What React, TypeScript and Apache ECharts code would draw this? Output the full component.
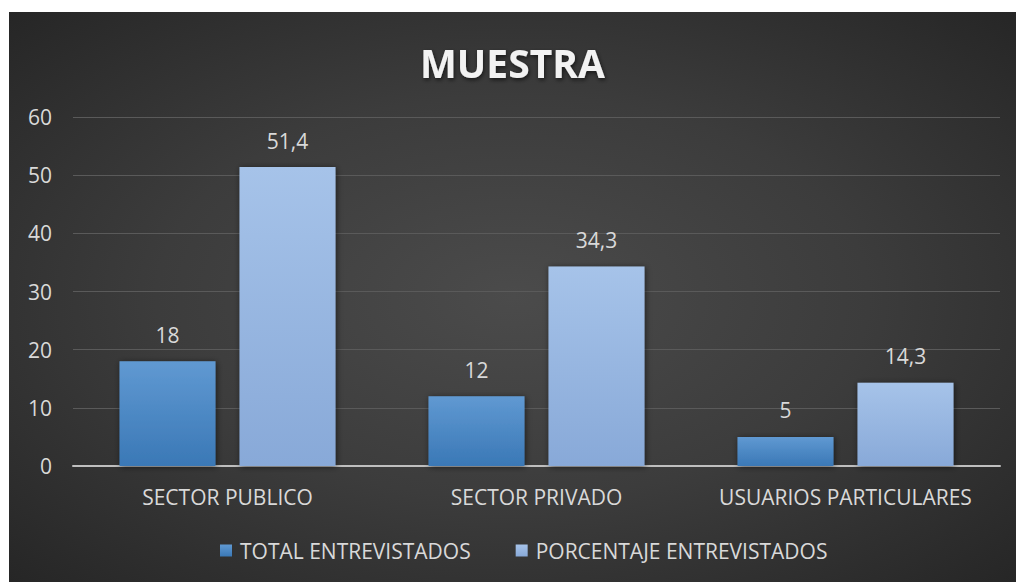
import React, { useEffect, useRef } from "react";
import * as echarts from "echarts";

const categories = ["SECTOR PUBLICO", "SECTOR PRIVADO", "USUARIOS PARTICULARES"];
const seriesNames = ["TOTAL ENTREVISTADOS", "PORCENTAJE ENTREVISTADOS"];
const totalEntrevistados = [18, 12, 5];
const porcentajeEntrevistados = [51.4, 34.3, 14.3];
const yMin = 0;
const yMax = 60;
const yInterval = 10;
const titleText = "MUESTRA";

const FONT = "'Open Sans', 'Noto Sans', sans-serif";
const TEXT = "#d9d9d9";

const fmt = (v: number) => String(v).replace(".", ",");

export default function App() {
  const ref = useRef<HTMLDivElement>(null);
  useEffect(() => {
    if (!ref.current) return;
    const chart = echarts.init(ref.current, undefined, { renderer: "svg" });
    const darkGrad = new echarts.graphic.LinearGradient(0, 0, 0, 1, [
      { offset: 0, color: "#6099d2" },
      { offset: 1, color: "#3a78b6" },
    ]);
    const lightGrad = new echarts.graphic.LinearGradient(0, 0, 0, 1, [
      { offset: 0, color: "#a6c3e9" },
      { offset: 1, color: "#88a9d8" },
    ]);
    const labelCfg = {
      show: true,
      position: "top",
      distance: 16,
      color: TEXT,
      fontFamily: FONT,
      fontSize: 21,
      formatter: (p: any) => fmt(p.value),
    };
    chart.setOption({
      animation: false,
      backgroundColor: "transparent",
      textStyle: { fontFamily: FONT },
      title: {
        text: titleText,
        left: "center",
        top: 26,
        textStyle: {
          color: "#f2f2f2",
          fontFamily: FONT,
          fontSize: 39,
          fontWeight: "bold",
          textShadowColor: "rgba(0,0,0,0.6)",
          textShadowBlur: 4,
          textShadowOffsetX: 1,
          textShadowOffsetY: 2,
        },
      },
      legend: {
        data: seriesNames,
        left: 211,
        top: 528,
        padding: 0,
        itemWidth: 12,
        itemHeight: 12,
        itemGap: 45,
        icon: "rect",
        textStyle: { color: TEXT, fontFamily: FONT, fontSize: 21, padding: [0, 0, 0, 3] },
      },
      grid: { left: 64, right: 16, top: 105, bottom: 116 },
      xAxis: {
        type: "category",
        data: categories,
        axisLine: { lineStyle: { color: "#bfbfbf", width: 2 } },
        axisTick: { show: false },
        axisLabel: { color: TEXT, fontFamily: FONT, fontSize: 21, margin: 20, interval: 0 },
      },
      yAxis: {
        type: "value",
        min: yMin,
        max: yMax,
        interval: yInterval,
        axisLine: { show: false },
        axisTick: { show: false },
        axisLabel: { color: TEXT, fontFamily: FONT, fontSize: 21, margin: 21 },
        splitLine: { lineStyle: { color: "#5a5a5a", width: 1 } },
      },
      series: [
        {
          name: seriesNames[0],
          type: "bar",
          data: totalEntrevistados,
          barWidth: 96,
          barGap: "25%",
          itemStyle: {
            color: darkGrad,
            shadowColor: "rgba(0,0,0,0.55)",
            shadowBlur: 6,
            shadowOffsetX: 1,
            shadowOffsetY: 1,
          },
          label: labelCfg,
        },
        {
          name: seriesNames[1],
          type: "bar",
          data: porcentajeEntrevistados,
          barWidth: 96,
          barGap: "25%",
          itemStyle: {
            color: lightGrad,
            shadowColor: "rgba(0,0,0,0.55)",
            shadowBlur: 6,
            shadowOffsetX: 1,
            shadowOffsetY: 1,
          },
          label: labelCfg,
        },
      ],
    });
    return () => chart.dispose();
  }, []);

  return (
    <div style={{ position: "absolute", left: 0, top: 0, width: 1016, height: 582, background: "#ffffff", overflow: "hidden" }}>
      <div
        style={{
          position: "absolute",
          left: 9,
          top: 12,
          width: 1007,
          height: 570,
          background: "radial-gradient(ellipse at 50% 50%, #4b4b4b 0%, #3c3c3c 50%, #262626 100%)",
        }}
      >
        <div ref={ref} style={{ width: 1007, height: 570 }} />
      </div>
    </div>
  );
}
